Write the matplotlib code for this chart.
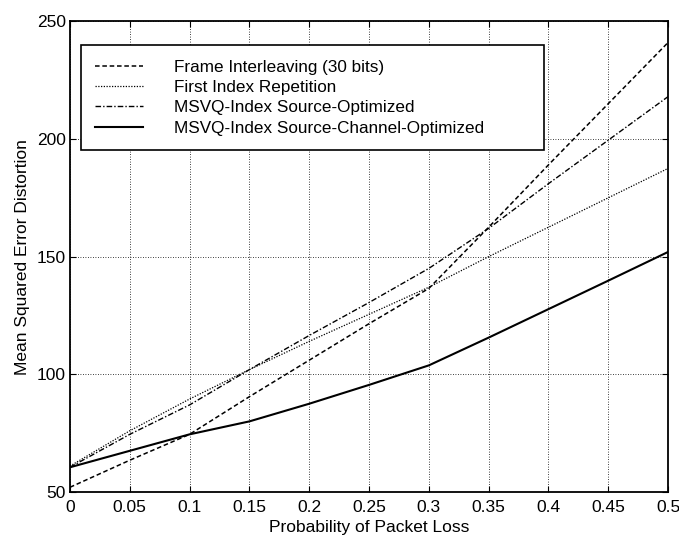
import numpy as np
import matplotlib
matplotlib.use('Agg')
import matplotlib.pyplot as plt

# probability of packet loss
p_loss = [0, 0.05, 0.1, 0.15, 0.2, 0.25, 0.3, 0.35, 0.4, 0.45, 0.5]

# mean squared error distortion
frame_interleaving = [52, 63.5, 74.5, 90.5, 106, 121.5, 136.5, 162.5, 189, 215, 241]
first_index_rep = [61, 76, 89.5, 102, 114, 125.5, 137, 150, 162.5, 175, 187.5]
msvq_source_opt = [60.5, 74.5, 87, 102, 116.5, 130.5, 145, 162, 181, 199.5, 218]
msvq_channel_opt = [60.5, 67.5, 74.5, 80, 87.5, 95.5, 103.8, 115.6, 127.7, 139.8, 152]

series_names = ['Frame Interleaving (30 bits)',
                'First Index Repetition',
                'MSVQ-Index Source-Optimized',
                'MSVQ-Index Source-Channel-Optimized']

x_ticks = [0, 0.05, 0.1, 0.15, 0.2, 0.25, 0.3, 0.35, 0.4, 0.45, 0.5]
x_tick_labels = ['0', '0.05', '0.1', '0.15', '0.2', '0.25', '0.3', '0.35', '0.4', '0.45', '0.5']
y_ticks = [50, 100, 150, 200, 250]


def main():
    plt.rcParams['font.family'] = ['Liberation Sans', 'DejaVu Sans']
    fig = plt.figure(figsize=(6.79, 5.38), dpi=100)
    ax = fig.add_axes([0.103, 0.0855, 0.881, 0.875])

    ax.plot(p_loss, frame_interleaving, color='black', lw=1.1, ls=(0, (3, 1.8)), label=series_names[0])
    ax.plot(p_loss, first_index_rep, color='black', lw=0.9, ls=(0, (1, 1.2)), label=series_names[1])
    ax.plot(p_loss, msvq_source_opt, color='black', lw=1.0, ls=(0, (4, 1.5, 1, 1.5)), label=series_names[2])
    ax.plot(p_loss, msvq_channel_opt, color='black', lw=1.5, ls='-', label=series_names[3])

    ax.set_xlim(0, 0.5)
    ax.set_ylim(50, 250)
    ax.set_xticks(x_ticks)
    ax.set_xticklabels(x_tick_labels)
    ax.set_yticks(y_ticks)
    ax.tick_params(direction='in', top=True, right=True, labelsize=12.5, length=4)
    ax.tick_params(axis='x', pad=6)
    ax.tick_params(axis='y', pad=3)
    ax.grid(True, color='black', ls=(0, (1, 2)), lw=0.6)
    for s in ax.spines.values():
        s.set_linewidth(1.3)

    ax.set_xlabel('Probability of Packet Loss', fontsize=12.5, labelpad=3)
    ax.set_ylabel('Mean Squared Error Distortion', fontsize=12.5, labelpad=5)

    leg = ax.legend(loc='upper left', bbox_to_anchor=(0.0184, 0.5, 0.774, 0.449), mode='expand',
                    fontsize=12.3, frameon=True, fancybox=False, edgecolor='black', framealpha=1,
                    handlelength=2.8, handletextpad=1.8, borderpad=0.85, labelspacing=0.31,
                    borderaxespad=0)
    leg.get_frame().set_linewidth(1.2)

    fig.savefig('out.png', dpi=100)


if __name__ == '__main__':
    main()
